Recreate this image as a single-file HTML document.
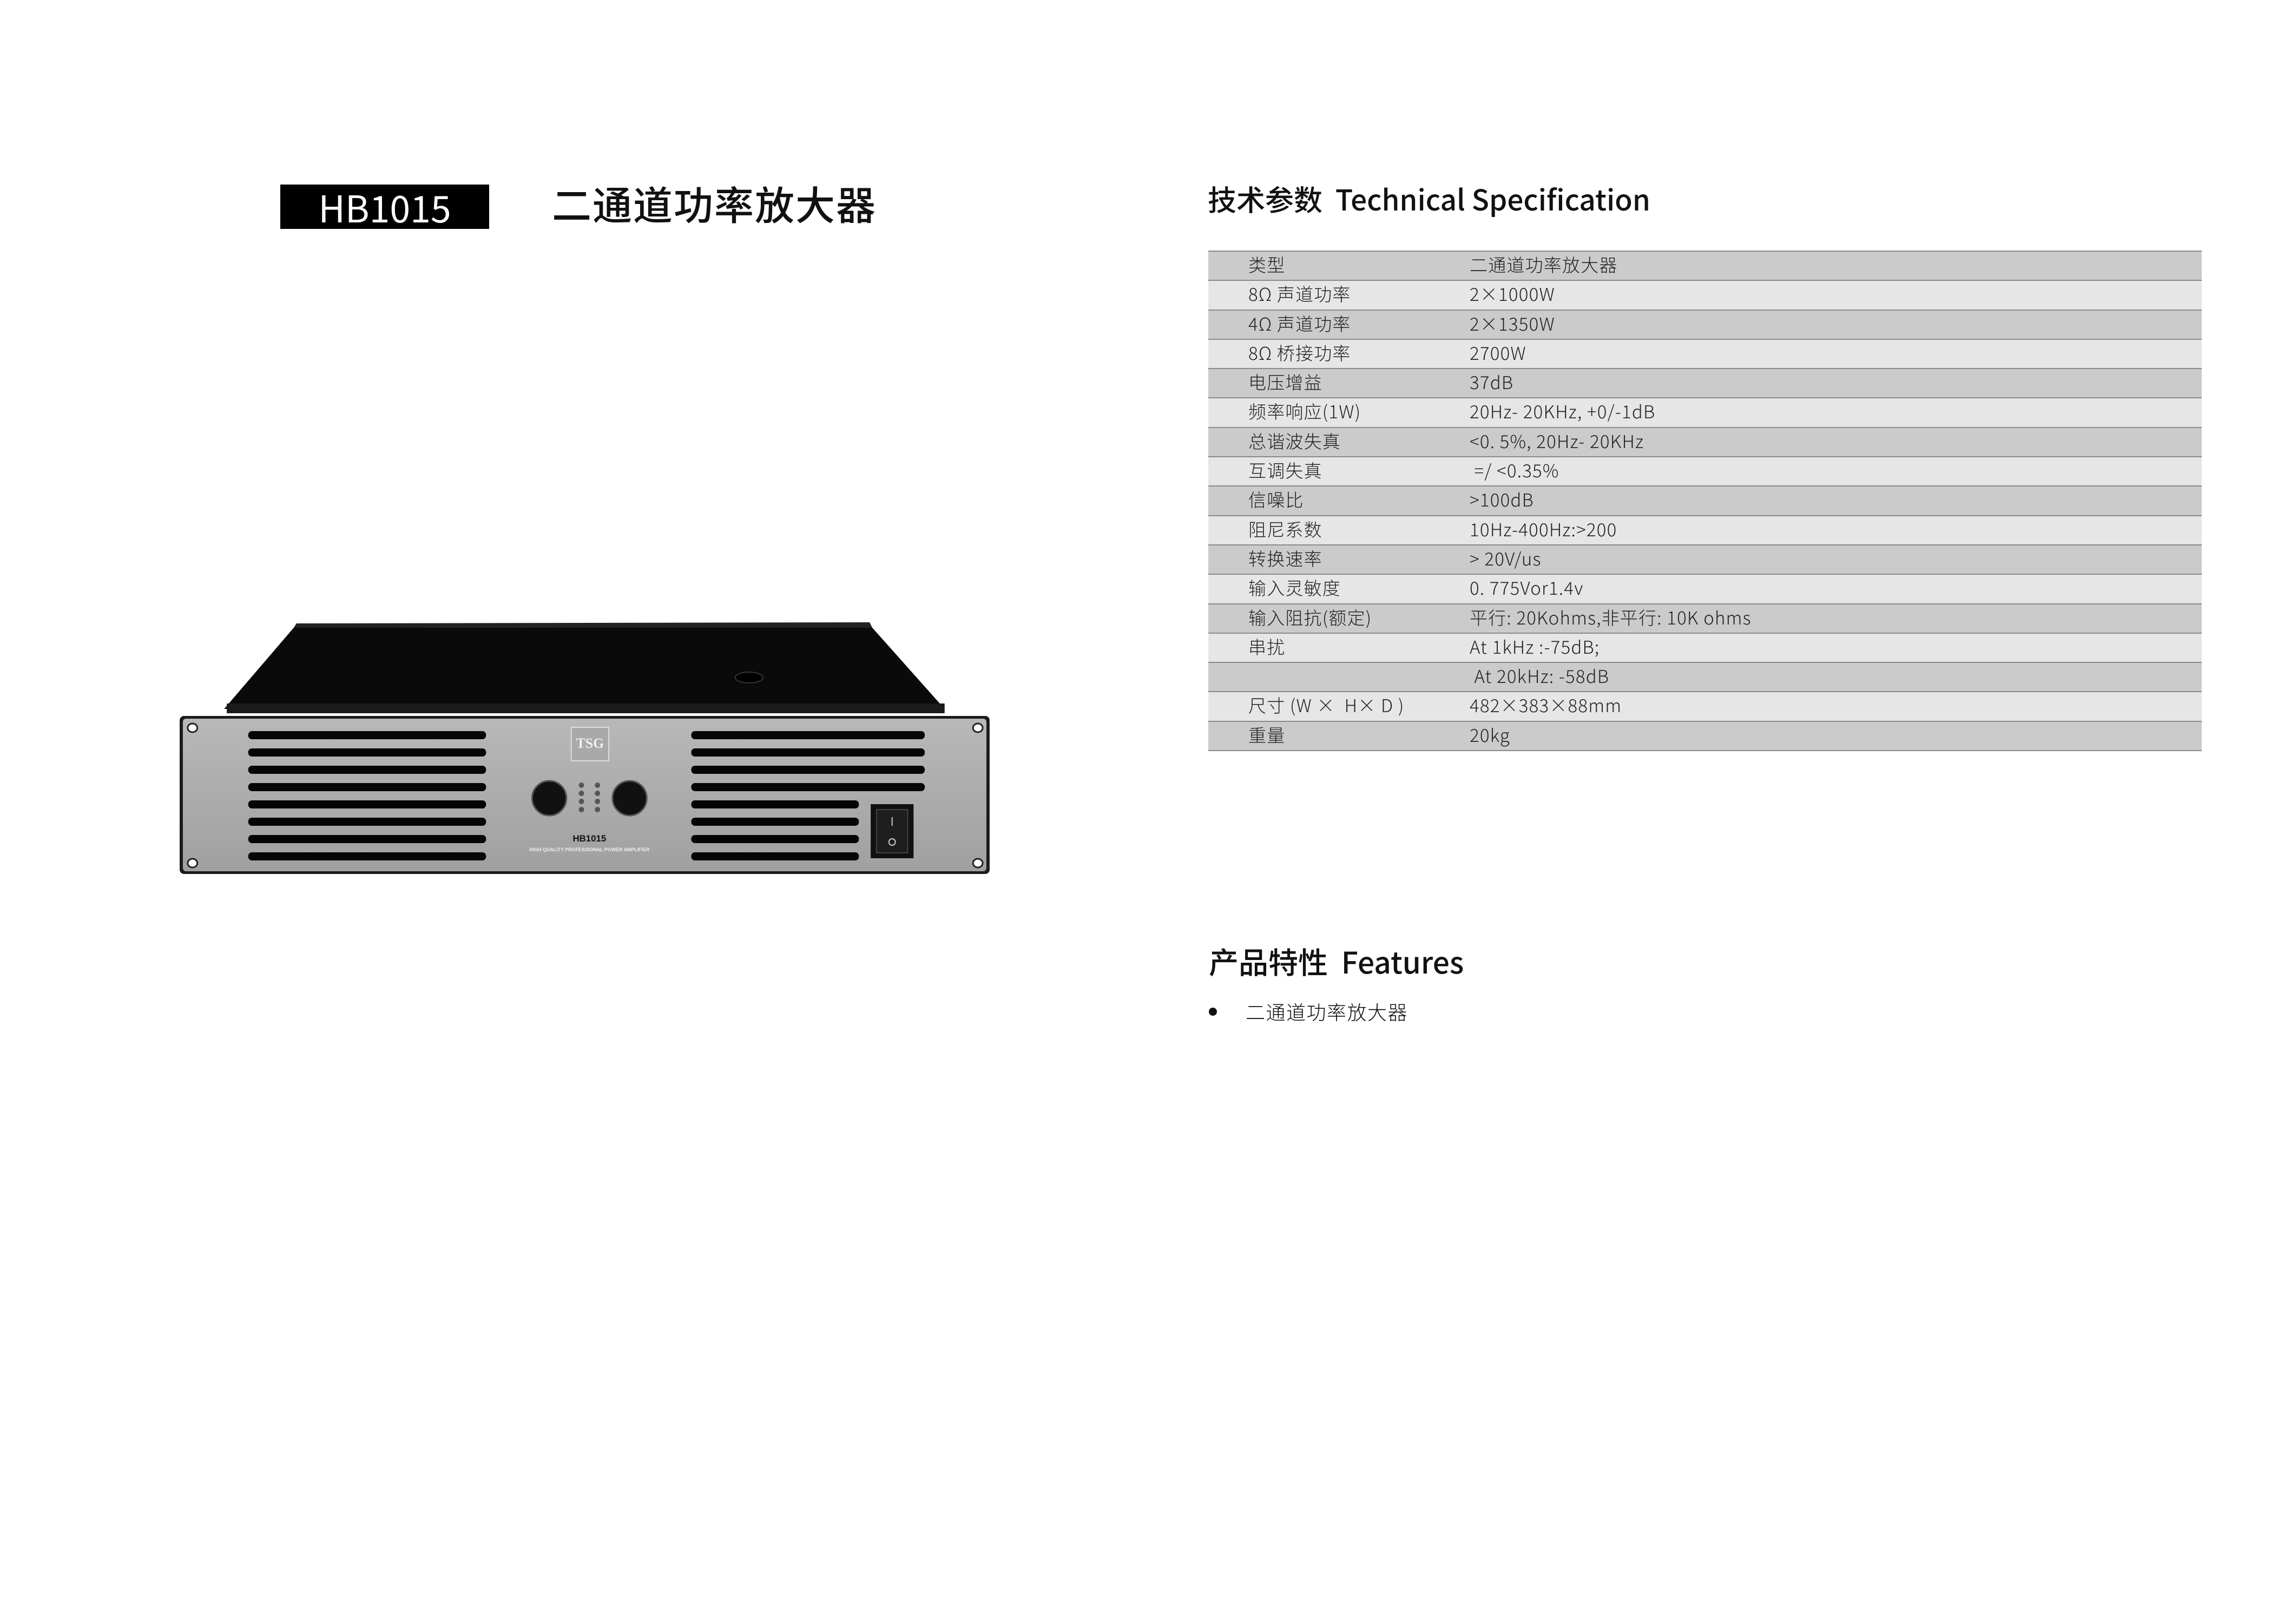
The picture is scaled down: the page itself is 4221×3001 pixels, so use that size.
<!DOCTYPE html>
<html><head><meta charset="utf-8"><style>
html,body{margin:0;padding:0;background:#fff;}
body{width:4221px;height:3001px;position:relative;overflow:hidden;font-family:"Liberation Sans","Noto Sans CJK SC",sans-serif;}
.abs{position:absolute;}
#hb{left:518px;top:341px;width:386px;height:82px;background:#000;color:#fff;font-family:"Noto Sans CJK SC",sans-serif;font-size:68px;line-height:82px;text-align:center;}
#title{left:1020px;top:330px;font-family:"Noto Sans CJK SC",sans-serif;font-weight:500;font-size:73px;line-height:90px;color:#111;letter-spacing:2px;}
.h2{font-family:"Noto Sans CJK SC",sans-serif;font-weight:500;font-size:53px;line-height:70px;color:#111;white-space:nowrap;}
#tbl{left:2233px;top:463px;width:1836px;}
.row{height:52.3px;border-top:2px solid #8a8a8a;position:relative;font-family:"Noto Sans CJK SC",sans-serif;font-weight:300;font-size:33px;line-height:46px;color:#222;letter-spacing:1.2px;}
.row:last-child{border-bottom:2px solid #8a8a8a;}
.d{background:#cbcbcb;}.l{background:#e6e6e6;}
.row span{position:absolute;top:0;white-space:pre;}
.k{left:74px;}.v{left:483px;}
</style></head><body>
<div id="hb" class="abs">HB1015</div>
<div id="title" class="abs">二通道功率放大器</div>
<div class="abs h2" style="left:2232px;top:332px;">技术参数&nbsp; Technical Specification</div>
<div id="tbl" class="abs">
<div class="row d"><span class="k">类型</span><span class="v">二通道功率放大器</span></div>
<div class="row l"><span class="k">8Ω 声道功率</span><span class="v">2×1000W</span></div>
<div class="row d"><span class="k">4Ω 声道功率</span><span class="v">2×1350W</span></div>
<div class="row l"><span class="k">8Ω 桥接功率</span><span class="v">2700W</span></div>
<div class="row d"><span class="k">电压增益</span><span class="v">37dB</span></div>
<div class="row l"><span class="k">频率响应(1W)</span><span class="v">20Hz- 20KHz, +0/-1dB</span></div>
<div class="row d"><span class="k">总谐波失真</span><span class="v">&lt;0. 5%, 20Hz- 20KHz</span></div>
<div class="row l"><span class="k">互调失真</span><span class="v"> =/ &lt;0.35%</span></div>
<div class="row d"><span class="k">信噪比</span><span class="v">&gt;100dB</span></div>
<div class="row l"><span class="k">阻尼系数</span><span class="v">10Hz-400Hz:&gt;200</span></div>
<div class="row d"><span class="k">转换速率</span><span class="v">&gt; 20V/us</span></div>
<div class="row l"><span class="k">输入灵敏度</span><span class="v">0. 775Vor1.4v</span></div>
<div class="row d"><span class="k">输入阻抗(额定)</span><span class="v">平行: 20Kohms,非平行: 10K ohms</span></div>
<div class="row l"><span class="k">串扰</span><span class="v">At 1kHz :-75dB;</span></div>
<div class="row d"><span class="k"></span><span class="v"> At 20kHz: -58dB</span></div>
<div class="row l"><span class="k">尺寸 (W ×  H× D )</span><span class="v">482×383×88mm</span></div>
<div class="row d"><span class="k">重量</span><span class="v">20kg</span></div>
</div>
<div class="abs h2" style="left:2234px;top:1740px;font-size:55px;">产品特性&nbsp; Features</div>
<div class="abs" style="left:2234px;top:1862px;width:15px;height:15px;border-radius:50%;background:#111;"></div>
<div class="abs" style="left:2302px;top:1846px;font-family:'Noto Sans CJK SC',sans-serif;font-weight:300;font-size:36px;line-height:46px;color:#111;letter-spacing:1.5px;">二通道功率放大器</div>

<svg class="abs" style="left:0;top:-10px" width="2000" height="1700" viewBox="0 0 2000 1700">
<defs>
<linearGradient id="pg" x1="0" y1="0" x2="0" y2="1"><stop offset="0" stop-color="#b8b8b8"/><stop offset="1" stop-color="#a0a0a0"/></linearGradient>
</defs>
<g transform="translate(333,0) scale(0.99,1) translate(-333,0)">
<polygon points="545,1170 1625,1170 1760,1320 415,1320" fill="#0a0a0a"/>
<polygon points="545,1170 550,1162 1620,1160 1625,1170" fill="#222"/>
<ellipse cx="1395" cy="1262" rx="26" ry="10" fill="#000" stroke="#333" stroke-width="2"/>
<rect x="420" y="1310" width="1340" height="18" fill="#1a1a1a"/>
<rect x="332" y="1333" width="1512" height="292" rx="8" fill="#1b1b1b"/>
<rect x="338" y="1338" width="1500" height="282" rx="6" fill="url(#pg)"/>
<ellipse cx="356" cy="1355" rx="9" ry="8" fill="#fff" stroke="#222" stroke-width="3"/>
<ellipse cx="356" cy="1605" rx="9" ry="8" fill="#fff" stroke="#222" stroke-width="3"/>
<ellipse cx="1822" cy="1355" rx="9" ry="8" fill="#fff" stroke="#222" stroke-width="3"/>
<ellipse cx="1822" cy="1605" rx="9" ry="8" fill="#fff" stroke="#222" stroke-width="3"/>
<g fill="#050505">
<rect x="460" y="1361" width="444" height="15" rx="7"/>
<rect x="460" y="1393" width="444" height="15" rx="7"/>
<rect x="460" y="1425" width="444" height="15" rx="7"/>
<rect x="460" y="1457" width="444" height="15" rx="7"/>
<rect x="460" y="1489" width="444" height="15" rx="7"/>
<rect x="460" y="1521" width="444" height="15" rx="7"/>
<rect x="460" y="1553" width="444" height="15" rx="7"/>
<rect x="460" y="1585" width="444" height="15" rx="7"/>
<rect x="1287" y="1361" width="436" height="15" rx="7"/>
<rect x="1287" y="1393" width="436" height="15" rx="7"/>
<rect x="1287" y="1425" width="436" height="15" rx="7"/>
<rect x="1287" y="1457" width="436" height="15" rx="7"/>
<rect x="1287" y="1489" width="313" height="15" rx="7"/>
<rect x="1287" y="1521" width="313" height="15" rx="7"/>
<rect x="1287" y="1553" width="313" height="15" rx="7"/>
<rect x="1287" y="1585" width="313" height="15" rx="7"/>
</g>
<rect x="1063" y="1354" width="70" height="62" fill="#a9a9a9" stroke="#ddd" stroke-width="2"/>
<text x="1098" y="1392" font-family="Liberation Serif,serif" font-weight="bold" font-size="26" fill="#eee" text-anchor="middle">TSG</text>
<circle cx="1022" cy="1485" r="32" fill="#111" stroke="#555" stroke-width="3"/>
<circle cx="1172" cy="1485" r="32" fill="#111" stroke="#555" stroke-width="3"/>
<g fill="#555"><circle cx="1082" cy="1461" r="5"/><circle cx="1112" cy="1461" r="5"/><circle cx="1082" cy="1476" r="5"/><circle cx="1112" cy="1476" r="5"/><circle cx="1082" cy="1491" r="5"/><circle cx="1112" cy="1491" r="5"/><circle cx="1082" cy="1506" r="5"/><circle cx="1112" cy="1506" r="5"/></g>
<text x="1097" y="1565" font-family="Liberation Sans,sans-serif" font-weight="bold" font-size="17" fill="#111" text-anchor="middle">HB1015</text>
<text x="1097" y="1583" font-family="Liberation Sans,sans-serif" font-weight="bold" font-size="9" fill="#eee" text-anchor="middle">HIGH QUALITY PROFESSIONAL POWER AMPLIFIER</text>
<rect x="1622" y="1496" width="80" height="100" fill="#111"/>
<rect x="1633" y="1506" width="58" height="80" fill="#1e1e1e" stroke="#444" stroke-width="2"/>
<line x1="1662" y1="1520" x2="1662" y2="1536" stroke="#ccc" stroke-width="2"/>
<circle cx="1662" cy="1566" r="6" fill="none" stroke="#ccc" stroke-width="2"/>
</g>
</svg>
</body></html>
